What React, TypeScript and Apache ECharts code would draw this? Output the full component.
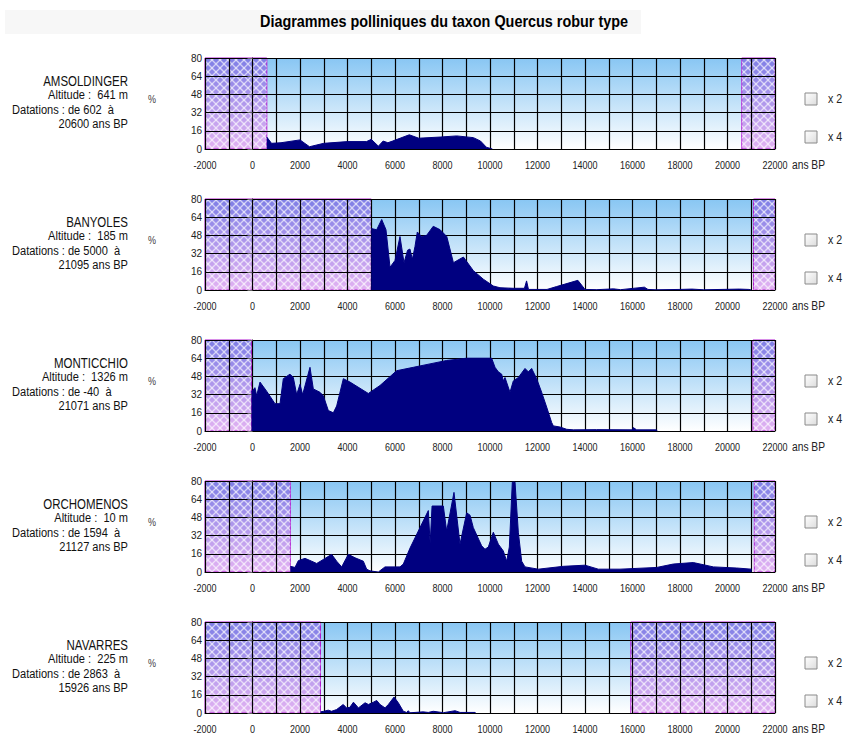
import React, { useEffect, useRef } from "react";
import * as echarts from "echarts";

const TITLE = "Diagrammes polliniques du taxon Quercus robur type";
const X_MIN = -2000;
const X_MAX = 22000;
const X_LABEL_STEP = 2000;
const Y_MAX = 80;
const Y_STEP = 16;
const X_UNIT = "ans BP";
const Y_UNIT = "%";

const siteNames = ["AMSOLDINGER", "BANYOLES", "MONTICCHIO", "ORCHOMENOS", "NAVARRES"];
const altitudes = [641, 185, 1326, 10, 225];
const datingStart = [602, 5000, -40, 1594, 2863];
const datingEnd = [20600, 21095, 21071, 21127, 15926];

const amsoldinger = [
  [602, 10.5], [800, 5], [1200, 5.5], [2000, 8], [2400, 2], [3000, 5], [4000, 6.5], [4800, 6.5],
  [5000, 8.5], [5300, 2.5], [5500, 7], [5700, 5.5], [5900, 7], [6600, 12.5], [7000, 9.5],
  [7900, 10.5], [8600, 11.5], [9300, 10], [9600, 7], [9850, 1.5], [10100, 0],
];

const banyoles = [
  [5000, 54], [5230, 53], [5440, 62], [5620, 53], [5790, 20], [6000, 26], [6210, 47], [6380, 24],
  [6530, 35], [6630, 36], [6730, 27], [6840, 38], [6940, 51], [7120, 47], [7330, 48], [7610, 56],
  [7900, 53], [8180, 47], [8460, 24], [8880, 29], [9300, 17], [9720, 9.5], [10140, 3.5],
  [10420, 2], [10970, 1.5], [11450, 1.5], [11540, 8], [11620, 0.5], [12400, 0.5], [12800, 3],
  [13700, 8.5], [14000, 0.5], [14500, 0.3], [15200, 1], [15500, 0.3], [16500, 2.5], [16650, 0.5],
  [17000, 0.2], [18000, 0.5], [18500, 0.8], [19000, 0.2], [20500, 0.8], [20900, 0.5], [21000, 0],
];

const monticchio = [
  [-40, 35], [105, 38], [175, 31], [316, 43], [596, 35], [947, 24], [1158, 24], [1298, 46],
  [1579, 50], [1719, 47], [1860, 32], [2000, 41], [2112, 32], [2253, 43], [2421, 56], [2561, 37],
  [2842, 34], [2982, 31], [3193, 18], [3403, 16], [3544, 22], [3825, 46], [4105, 43], [4877, 33],
  [5368, 40], [6070, 53], [6772, 56], [7474, 59], [8175, 62], [9018, 64], [10070, 64],
  [10211, 56], [10351, 52], [10491, 50], [10561, 44], [10632, 47], [10842, 34], [10982, 44],
  [11193, 47], [11474, 55], [11614, 52], [11754, 55], [11965, 46], [12175, 34], [12386, 21],
  [12596, 7.5], [12667, 4.5], [12947, 3.5], [13228, 1.5], [13509, 1], [14491, 1.2], [16000, 1],
  [16035, 3], [16175, 1], [17000, 1], [17050, 0],
];

const orchomenos = [
  [1594, 5], [1789, 4], [1930, 10], [2211, 12], [2491, 9.5], [2702, 7.5], [2982, 11], [3333, 15.5],
  [3544, 9.5], [3754, 4.5], [4035, 15.5], [4316, 12.5], [4667, 9.5], [4807, 2.5], [4947, 1],
  [5298, 0], [5579, 4.5], [6211, 4.5], [6351, 7], [6632, 21], [7403, 54], [7480, 25], [7560, 58],
  [8035, 58], [8175, 36], [8484, 70], [8737, 24.5], [9018, 52], [9158, 50], [9298, 39],
  [9649, 23], [9789, 20], [9930, 22], [10140, 35], [10351, 24.5], [10561, 18.5], [10702, 9.5],
  [10814, 22], [10940, 79], [11053, 79], [11193, 35], [11333, 9.5], [11474, 4.5], [12035, 2.5],
  [13088, 5], [14000, 6], [14561, 2.5], [15474, 2.5], [17018, 4], [17719, 7], [18561, 8.3],
  [19403, 4.5], [20386, 3.5], [21018, 2.5],
];

const navarres = [
  [2863, 1], [3000, 1.5], [3190, 2.5], [3330, 1.5], [3540, 3], [3820, 7.5], [3960, 4.5],
  [4100, 5], [4250, 9.5], [4460, 4.5], [4740, 9], [4880, 7.5], [5090, 9.5], [5230, 11],
  [5370, 7.5], [5580, 4.5], [5720, 7.5], [5960, 14], [6140, 9], [6350, 1.5], [6490, 0.5],
  [6560, 2], [6630, 0.2], [7190, 1], [7400, 0.5], [7610, 1.5], [8040, 0.3], [8530, 2],
  [8740, 0.5], [9370, 0.5], [9400, 0],
];

const siteSeries = [amsoldinger, banyoles, monticchio, orchomenos, navarres];

const FONT = "'Liberation Sans', Arial, sans-serif";
const NARROW_SCALE = 0.82;

function makeLattice(): HTMLCanvasElement {
  const c = document.createElement("canvas");
  c.width = 16;
  c.height = 16;
  const g = c.getContext("2d");
  if (g) {
    g.strokeStyle = "rgba(255,255,255,0.62)";
    g.lineWidth = 1.3;
    for (let k = -16; k <= 16; k += 8) {
      g.beginPath();
      g.moveTo(k, 0);
      g.lineTo(k + 16, 16);
      g.stroke();
      g.beginPath();
      g.moveTo(k, 16);
      g.lineTo(k + 16, 0);
      g.stroke();
    }
  }
  return c;
}

function narrowText(text: string, x: number, y: number, size: number, align: string, opts: any = {}) {
  return {
    type: "text",
    silent: true,
    x,
    y,
    scaleX: opts.scale || NARROW_SCALE,
    style: {
      text,
      textAlign: align,
      textVerticalAlign: "middle",
      font: `${opts.bold ? "bold " : ""}${size}px ${FONT}`,
      fill: opts.fill || "#111",
    },
  };
}

export default function App() {
  const ref = useRef<HTMLDivElement>(null);

  useEffect(() => {
    if (!ref.current) return;
    const chart = echarts.init(ref.current, undefined, { renderer: "svg" });

    const gridLeft = 205;
    const gridWidth = 570;
    const gridHeight = 91;
    const tops = [58, 199, 340, 481, 622];
    const lattice = makeLattice();

    const grids: any[] = [];
    const xAxes: any[] = [];
    const yAxes: any[] = [];
    const series: any[] = [];
    const graphics: any[] = [];

    graphics.push({
      type: "rect",
      silent: true,
      shape: { x: 5, y: 10, width: 636, height: 24 },
      style: { fill: "#f7f7f7" },
      z: 0,
    });
    graphics.push(narrowText(TITLE, 444, 21, 16, "center", { bold: true, fill: "#000", scale: 0.9 }));

    siteNames.forEach((name, i) => {
      const top = tops[i];
      grids.push({
        left: gridLeft,
        top,
        width: gridWidth,
        height: gridHeight,
        show: true,
        borderWidth: 0,
        backgroundColor: new echarts.graphic.LinearGradient(0, 0, 0, 1, [
          { offset: 0, color: "#88c6f3" },
          { offset: 1, color: "#ffffff" },
        ]),
      });
      xAxes.push({
        gridIndex: i,
        type: "value",
        min: X_MIN,
        max: X_MAX,
        interval: X_LABEL_STEP,
        z: 2,
        axisLine: { show: true, onZero: false, lineStyle: { color: "#000", width: 1 } },
        axisTick: { show: false },
        minorTick: { show: false, splitNumber: 2 },
        axisLabel: { show: false },
        splitLine: { show: true, lineStyle: { color: "#000", width: 1.2 } },
        minorSplitLine: { show: true, lineStyle: { color: "#000", width: 1.2 } },
      });
      yAxes.push({
        gridIndex: i,
        type: "value",
        min: 0,
        max: Y_MAX,
        interval: Y_STEP,
        z: 2,
        axisLine: { show: true, lineStyle: { color: "#000", width: 1 } },
        axisTick: { show: true, length: 5, lineStyle: { color: "#666" } },
        axisLabel: { margin: 3, fontSize: 10, color: "#222", fontFamily: FONT },
        splitLine: { show: true, lineStyle: { color: "#000", width: 1.2 } },
      });

      const hatchAreas = [
        [{ xAxis: X_MIN }, { xAxis: datingStart[i] }],
        [{ xAxis: datingEnd[i] }, { xAxis: X_MAX }],
      ];

      series.push({
        type: "line",
        xAxisIndex: i,
        yAxisIndex: i,
        data: siteSeries[i],
        symbol: "none",
        silent: true,
        lineStyle: { opacity: 0, width: 0 },
        z: 1,
        markArea: {
          silent: true,
          itemStyle: {
            color: new echarts.graphic.LinearGradient(0, 0, 0, 1, [
              { offset: 0, color: "#7f7fe6" },
              { offset: 1, color: "#e2b2f2" },
            ]),
            borderColor: "#b01cd0",
            borderWidth: 1,
          },
          data: hatchAreas,
        },
      });
      series.push({
        type: "line",
        xAxisIndex: i,
        yAxisIndex: i,
        data: siteSeries[i],
        symbol: "none",
        silent: true,
        lineStyle: { opacity: 0, width: 0 },
        z: 1,
        markArea: {
          silent: true,
          itemStyle: {
            color: { image: lattice, repeat: "repeat", imageWidth: 16, imageHeight: 16 },
            borderWidth: 0,
          },
          data: hatchAreas,
        },
      });
      series.push({
        type: "line",
        name,
        xAxisIndex: i,
        yAxisIndex: i,
        data: siteSeries[i],
        symbol: "none",
        silent: true,
        z: 3,
        lineStyle: { color: "#000080", width: 1 },
        areaStyle: { color: "#000080", opacity: 1 },
      });

      graphics.push(narrowText(name, 128, top + 23, 14, "right"));
      graphics.push(narrowText(`Altitude :  ${altitudes[i]} m`, 128, top + 37, 13.5, "right"));
      graphics.push(narrowText(`Datations : de ${datingStart[i]}  à`, 12, top + 52, 13.5, "left"));
      graphics.push(narrowText(`${datingEnd[i]} ans BP`, 128, top + 66, 13.5, "right"));
      graphics.push(narrowText(Y_UNIT, 152, top + 41, 11, "center", { fill: "#444" }));
      graphics.push(narrowText(X_UNIT, 792, top + gridHeight + 16, 12.5, "left", { fill: "#222" }));

      [
        { label: "x 2", dy: 41 },
        { label: "x 4", dy: 79 },
      ].forEach((cb) => {
        graphics.push({
          type: "rect",
          silent: true,
          shape: { x: 805, y: top + cb.dy - 6, width: 12, height: 12 },
          style: {
            fill: new echarts.graphic.LinearGradient(0, 0, 1, 1, [
              { offset: 0, color: "#ffffff" },
              { offset: 1, color: "#dcdcdc" },
            ]),
            stroke: "#8a8a8a",
            lineWidth: 1,
          },
        });
        graphics.push(narrowText(cb.label, 828, top + cb.dy, 13, "left", { fill: "#222" }));
      });
    });

    const option: any = {
      animation: false,
      backgroundColor: "#ffffff",
      textStyle: { fontFamily: FONT },
      grid: grids,
      xAxis: xAxes,
      yAxis: yAxes,
      series,
      graphic: graphics,
    };
    chart.setOption(option);

    // x tick labels, placed through the axis scale
    const labelGraphics: any[] = [];
    siteNames.forEach((_, i) => {
      for (let v = X_MIN; v <= X_MAX; v += X_LABEL_STEP) {
        const p = chart.convertToPixel({ gridIndex: i }, [v, 0]) as number[];
        labelGraphics.push(narrowText(String(v), p[0], p[1] + 16, 11, "center", { fill: "#222" }));
      }
    });
    chart.setOption({ graphic: graphics.concat(labelGraphics) });

    return () => {
      chart.dispose();
    };
  }, []);

  return (
    <div
      ref={ref}
      style={{ position: "fixed", left: 0, top: 0, width: 846, height: 736, background: "#fff" }}
    />
  );
}
